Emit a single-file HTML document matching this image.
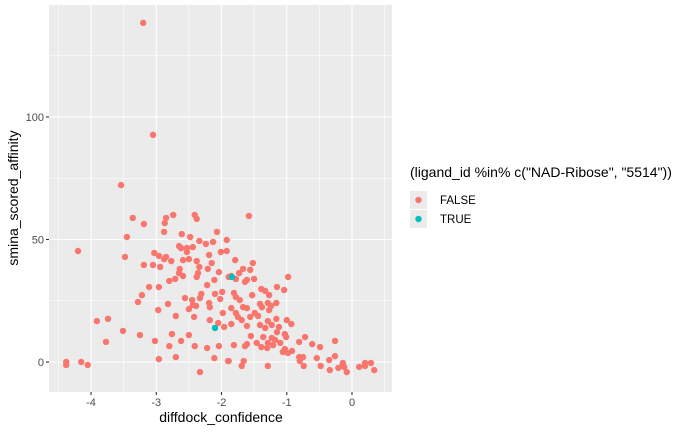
<!DOCTYPE html>
<html><head><meta charset="utf-8"><style>
body{margin:0;background:#fff;}
svg{display:block;font-family:"Liberation Sans",Arial,sans-serif;}
</style></head><body>
<svg id="chart" width="700" height="432">
<rect x="49" y="5" width="343" height="387" fill="#EBEBEB"/>
<g id="grid"></g><g id="pts"></g><g id="axes"></g>
<text x="221" y="422" font-size="14" text-anchor="middle" fill="#000">diffdock_confidence</text>
<text transform="translate(18,198) rotate(-90)" font-size="14" text-anchor="middle" fill="#000">smina_scored_affinity</text>
<g>
<text x="410" y="177" font-size="14" fill="#000">(ligand_id %in% c("NAD-Ribose", "5514"))</text>
<g>
<rect x="410" y="191" width="17" height="18" fill="#EBEBEB"/><circle cx="418.5" cy="200" r="3.2" fill="#F8766D"/>
<text x="440" y="204" font-size="11.5" fill="#000">FALSE</text></g>
<g>
<rect x="410" y="210" width="17" height="18" fill="#EBEBEB"/><circle cx="418.5" cy="219" r="3.2" fill="#00BFC4"/>
<text x="440" y="223" font-size="11.5" fill="#000">TRUE</text></g>
</g>
</svg>
<script>
const xTicks=[-4,-3,-2,-1,0];
const yTicks=[0,50,100];
const xFalse=[-3.54,-3.36,-3.19,-2.85,-2.87,-2.74,-2.41,-2.38,-3.45,-2.88,-2.61,-2.48,-2.34,-2.24,-2.13,-2.07,-1.92,-4.20,-3.48,-3.03,-2.96,-2.85,-2.88,-2.77,-2.65,-2.62,-2.53,-2.44,-2.53,-2.59,-2.50,-2.38,-2.19,-2.01,-1.92,-3.19,-3.05,-2.94,-2.64,-2.65,-2.59,-2.34,-2.36,-2.38,-2.21,-2.15,-2.04,-2.11,-1.89,-2.80,-2.71,-2.22,-3.11,-2.96,-3.22,-3.28,-2.56,-2.45,-2.31,-2.33,-2.10,-1.99,-2.02,-2.44,-2.50,-2.39,-2.19,-2.18,-2.82,-2.97,-1.98,-2.70,-2.42,-2.18,-2.05,-3.91,-3.74,-3.51,-3.25,-3.77,-3.02,-2.76,-2.50,-2.62,-2.80,-2.41,-2.22,-2.04,-1.96,-2.70,-2.96,-2.11,-1.90,-4.38,-4.38,-4.15,-4.05,-2.33,-3.20,-3.05,
-1.58,-1.79,-1.52,-1.56,-1.67,-1.73,-1.85,-1.78,-1.61,-1.64,-1.50,-0.98,-1.15,-1.04,-1.39,-1.33,-1.27,-1.53,-1.72,-1.78,-1.81,-1.41,-1.38,-1.29,-1.24,-1.16,-1.27,-1.67,-1.61,-1.49,-1.56,-1.44,-1.78,-1.75,-1.69,-1.85,-1.61,-1.85,-1.29,-1.16,-1.23,-1.12,-1.00,-0.93,-1.41,-1.33,-1.15,-1.55,-1.36,-1.23,-1.03,-1.01,-1.18,-1.29,-1.21,-1.10,-1.46,-1.61,-1.64,-1.81,-1.39,-1.30,-1.03,-1.06,-0.98,-0.92,-0.81,-0.72,-0.61,-0.49,-0.26,-0.81,-0.75,-0.54,-0.26,-0.35,-0.80,-0.74,-0.48,-0.34,-0.21,-0.14,-0.12,-0.08,-0.15,0.11,0.20,0.20,0.29,0.34,-1.66,-1.69,-1.29,-1.89];
const yFalse=[72.2,58.8,56.3,58.8,56.7,60.0,60.0,58.4,51.0,53.1,52.2,51.0,49.4,48.2,49.0,53.1,49.8,45.3,42.9,44.5,43.3,42.9,42.0,41.2,47.3,46.5,46.5,46.9,44.9,41.6,42.0,41.2,43.7,44.9,45.3,39.6,39.6,38.8,38.0,36.3,35.1,38.8,36.3,34.7,38.0,40.4,36.7,33.5,34.7,33.1,33.9,31.4,30.6,30.6,27.3,24.5,26.1,25.3,27.8,26.1,27.8,28.6,25.7,23.3,21.6,22.9,24.1,22.4,23.7,21.2,20.0,18.8,18.4,17.1,15.9,16.7,17.6,12.7,11.0,8.2,8.6,11.4,11.0,8.6,6.5,6.5,5.7,6.5,14.3,2.0,1.2,1.6,0.4,0,-1.2,0,-1.2,-4.1,138.4,92.7,
59.6,41.6,40.4,37.6,38.0,36.3,35.1,33.9,33.5,32.7,33.9,34.7,30.6,29.4,29.8,29.0,27.3,27.3,25.3,26.5,28.2,23.7,22.4,24.1,22.9,24.1,21.2,22.4,22.0,20.0,18.4,18.8,20.0,18.4,17.1,22.0,14.7,15.5,16.7,17.6,15.1,14.3,17.1,15.5,15.1,13.9,12.2,10.6,10.2,9.8,11.4,10.2,9.0,7.8,6.9,7.8,7.8,7.3,6.5,6.9,6.1,5.7,5.3,4.1,3.7,4.5,8.2,10.2,7.3,6.1,8.6,2.0,2.0,1.6,2.4,0.8,0.4,-1.6,-1.6,-3.3,-2.4,-0.4,-2.0,-4.1,-1.6,-2.0,-0.4,-1.6,-0.4,-3.3,0.4,-1.6,-1.6,0.4];
const xTrue=[-1.84,-2.10];
const yTrue=[34.7,13.9];
const NS='http://www.w3.org/2000/svg';
const X0=49,X1=392,Y0=5,Y1=392;
const xMin=-4.644,xMax=0.613,yMin=-12.24,yMax=145.7;
function sx(v){return X0+(v-xMin)/(xMax-xMin)*(X1-X0);}
function sy(v){return Y1-(v-yMin)/(yMax-yMin)*(Y1-Y0);}
function mk(t,a,p){const e=document.createElementNS(NS,t);for(const k in a)e.setAttribute(k,a[k]);p.appendChild(e);return e;}
const grid=document.getElementById('grid'),axes=document.getElementById('axes'),pts=document.getElementById('pts');
for(let v=-4.5;v<=0.5;v+=1){const l=mk('line',{x1:sx(v),x2:sx(v),y1:Y0,y2:Y1,stroke:'#fff','stroke-width':0.55},grid);

}
for(const v of [25,75,125]){const l=mk('line',{x1:X0,x2:X1,y1:sy(v),y2:sy(v),stroke:'#fff','stroke-width':0.55},grid);

}
xTicks.forEach(v=>{const l=mk('line',{x1:sx(v),x2:sx(v),y1:Y0,y2:Y1,stroke:'#fff','stroke-width':1.1},grid);


const tk=mk('line',{x1:sx(v),x2:sx(v),y1:Y1,y2:Y1+3,stroke:'#333','stroke-width':1.1},axes);


const t=mk('text',{x:sx(v),y:Y1+14,'font-size':11,'text-anchor':'middle',fill:'#4D4D4D'},axes);t.textContent=v;

});
yTicks.forEach(v=>{const l=mk('line',{x1:X0,x2:X1,y1:sy(v),y2:sy(v),stroke:'#fff','stroke-width':1.1},grid);


const tk=mk('line',{x1:X0-3,x2:X0,y1:sy(v),y2:sy(v),stroke:'#333','stroke-width':1.1},axes);


const t=mk('text',{x:X0-5,y:sy(v)+4,'font-size':11,'text-anchor':'end',fill:'#4D4D4D'},axes);t.textContent=v;

});
xFalse.forEach((v,i)=>{const c=mk('circle',{cx:sx(v),cy:sy(yFalse[i]),r:3.2,fill:'#F8766D'},pts);

});
xTrue.forEach((v,i)=>{const c=mk('circle',{cx:sx(v),cy:sy(yTrue[i]),r:3.2,fill:'#00BFC4'},pts);

});
</script>
</body></html>
